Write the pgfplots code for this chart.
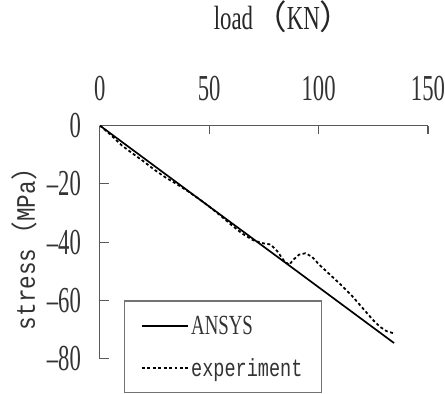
\documentclass[border=0pt]{standalone}
\usepackage{fontspec}
\setmainfont[FakeStretch=0.68]{Liberation Serif}
\newfontfamily\tickfont[FakeStretch=0.62]{Liberation Serif}
\newfontfamily\monofont[FakeStretch=0.85]{Liberation Mono}
\newfontfamily\monocond[FakeStretch=0.75]{Liberation Mono}
\newfontfamily\cjk{Noto Sans CJK SC}
\usepackage{pgfplots}
\pgfplotsset{compat=1.18}
\begin{document}
\begin{tikzpicture}
\begin{axis}[
  at={(0,0)}, anchor=south west,
  scale only axis, width=332pt, height=236pt,
  xmin=0, xmax=150, ymin=-80, ymax=0,
  axis x line=top, axis y line=left,
  axis line style={-, draw=black!65, line width=1.3pt},
  xtick={0,50,100,150}, xticklabels={0,50,100,150},
  ytick={0,-20,-40,-60,-80}, yticklabels={0,–20,–40,–60,–80},
  x tick style={draw=black!65, line width=1.3pt},
  y tick style={draw=black!65, line width=1.3pt},
  xtick align=inside, ytick align=inside,
  major tick length=9pt,
  xticklabel style={anchor=base, inner sep=0pt, yshift=25pt, font=\tickfont\fontsize{37}{40}\selectfont, text=black!80},
  yticklabel style={anchor=east, inner sep=0pt, xshift=-19pt, font=\tickfont\fontsize{37}{40}\selectfont, text=black!80},
  title={load{\cjk （}KN{\cjk ）}},
  title style={at={(axis description cs:0.56,1.386)}, anchor=base, inner sep=0pt, font=\fontsize{34}{40}\selectfont, text=black!85},
  ylabel={stress{\cjk （}MPa{\cjk ）}},
  ylabel style={at={(axis description cs:-0.229,0.5)}, anchor=center, inner sep=0pt, font=\monofont\fontsize{27}{30}\selectfont, text=black!80},
  legend style={at={(axis description cs:0.0723,0.25)}, anchor=north west,
    draw=black!55, line width=1.3pt, fill=white,
    inner xsep=17pt, inner ysep=13pt, row sep=19pt,
    font=\fontsize{28}{30}\selectfont, text=black!80},
  legend cell align=left,
  legend image code/.code={\draw[#1] (0pt,0pt) -- (47pt,0pt);},
]
\addplot[black, line width=1.7pt] coordinates {(0,0) (45,-25) (90,-49.9) (134.5,-74.6)};
\addlegendentry{ANSYS}
\addplot[black, line width=1.8pt, dash pattern=on 3pt off 2.5pt] coordinates {
(0,0) (5,-3.2) (10,-6.8) (15,-9.6) (20,-12.3) (25,-15.2) (30,-17.8) (35,-20)
(40,-22.4) (45,-25) (50,-27.8) (55,-30.8) (60,-34) (65,-37) (70,-39.3)
(74,-40.3) (78,-40.8) (81,-43) (84,-46.2) (86.5,-47.8) (88.5,-46) (91,-44.3)
(94,-43.8) (97,-45) (100,-47.5) (105,-51) (110,-54.5) (115,-58.2) (120,-62.5)
(125,-66.8) (128,-69) (131,-70.5) (134.5,-71.3)};
\addlegendentry{\monocond\fontsize{25}{26}\selectfont experiment}
\end{axis}
\path[use as bounding box] (-101pt,-33pt) rectangle (344pt,363pt);
\end{tikzpicture}
\end{document}
